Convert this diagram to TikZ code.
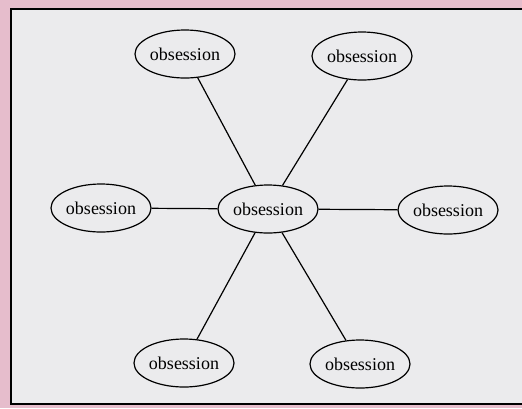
\documentclass[tikz,border=0pt]{standalone}
\usepackage{fontspec}
\setmainfont{Liberation Serif}
\usetikzlibrary{shapes.geometric}
\definecolor{pagepink}{HTML}{E6BDCC}
\definecolor{boxgray}{HTML}{EBEBED}
\tikzset{obs/.style={ellipse,draw,line width=1.2pt,minimum width=100pt,minimum height=48pt,inner sep=0pt,font=\fontsize{18}{20}\selectfont}}

\begin{document}
\begin{tikzpicture}[x=1pt,y=-1pt]
    \useasboundingbox (0, 0) rectangle (522, 408);
    \fill [pagepink] (0, 0) rectangle (522, 408);
    \fill [boxgray] (11, 9) rectangle (524, 404);
    \draw [line width=1.8pt] (524, 9) -- (11, 9) -- (11, 404) -- (524, 404);
    \node [obs] (mid) at (268, 209) {obsession};
    \node [obs] (tl) at (185, 54) {obsession};
    \node [obs] (tr) at (362, 56) {obsession};
    \node [obs] (ml) at (101, 208) {obsession};
    \node [obs] (mr) at (448, 210) {obsession};
    \node [obs] (bl) at (184, 363) {obsession};
    \node [obs] (br) at (360, 364) {obsession};
    \foreach \n in {tl,tr,ml,mr,bl,br}
        \draw [line width=1.2pt] (mid) -- (\n);
\end{tikzpicture}
\end{document}
